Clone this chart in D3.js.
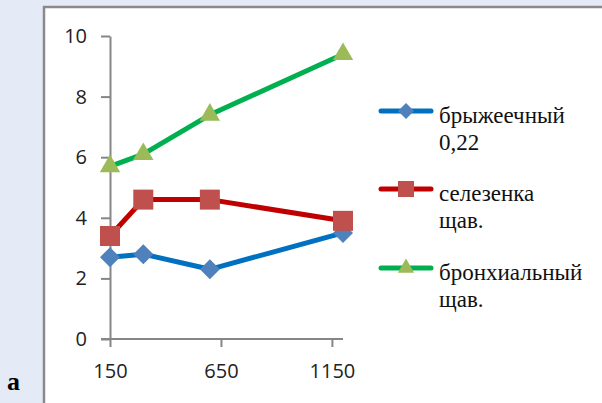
<!DOCTYPE html>
<html>
<head>
<meta charset="utf-8">
<script src="https://cdn.jsdelivr.net/npm/d3@7/dist/d3.min.js"></script>
<style>
  body { margin: 0; background: #e4ebf6; }
  svg { display: block; }
  text.serif { font-family: "Liberation Serif", "Times New Roman", "DejaVu Serif", serif; }
</style>
</head>
<body>
<div id="chart"></div>
<script>
// data
const xValues = [150, 300, 600, 1200];
const seriesNames = [["брыжеечный", "0,22"], ["селезенка", "щав."], ["бронхиальный", "щав."]];
const mesenteric = [2.7, 2.8, 2.3, 3.5];
const spleen = [3.4, 4.6, 4.6, 3.9];
const bronchial = [5.7, 6.1, 7.4, 9.4];
const xTicks = [150, 650, 1150];
const yTicks = [0, 2, 4, 6, 8, 10];

const width = 602, height = 403;

const svg = d3.select("#chart").append("svg")
    .attr("width", width)
    .attr("height", height);

// white panel with grey frame on left/top
svg.append("rect")
    .attr("x", 44).attr("y", 7)
    .attr("width", width).attr("height", height)
    .attr("fill", "#fff")
    .attr("stroke", "#8a8a8a")
    .attr("stroke-width", 2.5);

const x = d3.scaleLinear().domain([150, 1200]).range([110, 343]);
const y = d3.scaleLinear().domain([0, 10]).range([339, 36]);

const axisColor = "#868686";
const tickFont = "'Open Sans', sans-serif";

// y axis
const yAxis = svg.append("g")
    .attr("transform", `translate(${x(150)},0)`)
    .call(d3.axisLeft(y).tickValues(yTicks).tickSize(9).tickPadding(14).tickSizeOuter(0));
// x axis
const xAxis = svg.append("g")
    .attr("transform", `translate(0,${y(0)})`)
    .call(d3.axisBottom(x).tickValues(xTicks).tickFormat(d3.format("d"))
        .tickSize(8).tickPadding(17).tickSizeOuter(0));

[xAxis, yAxis].forEach(g => {
    g.select(".domain").attr("stroke", axisColor).attr("stroke-width", 2);
    g.selectAll(".tick line").attr("stroke", axisColor).attr("stroke-width", 2);
    g.selectAll(".tick text")
        .attr("fill", "#222")
        .style("font-family", tickFont)
        .style("font-size", "20px");
});
// x axis line starts at the left tick of the y axis
xAxis.select(".domain").attr("d", `M${x(150) - 9},0H${x(1200)}`);

const series = [
    { values: mesenteric, line: "#0070c0", fill: "#4f81bd", shape: "diamond" },
    { values: spleen, line: "#c00000", fill: "#c0504d", shape: "square" },
    { values: bronchial, line: "#00b050", fill: "#9bbb59", shape: "triangle" }
];

function markerPath(shape, s) {
    if (shape === "square") return d3.symbol(d3.symbolSquare, s * s)();
    if (shape === "diamond") return d3.symbol(d3.symbolSquare, s * s / 2)();
    return d3.symbol(d3.symbolTriangle, s * s * 0.45)();
}
function markerTransform(shape, px, py) {
    if (shape === "diamond") return `translate(${px},${py}) rotate(45)`;
    return `translate(${px},${py})`;
}

const line = d3.line().x((d, i) => x(xValues[i])).y(d => y(d));

series.forEach(s => {
    svg.append("path")
        .datum(s.values)
        .attr("d", line)
        .attr("fill", "none")
        .attr("stroke", s.line)
        .attr("stroke-width", 5)
        .attr("stroke-linejoin", "round");
});
series.forEach(s => {
    svg.selectAll(null)
        .data(s.values)
        .enter().append("path")
        .attr("d", markerPath(s.shape, 20))
        .attr("transform", (d, i) => markerTransform(s.shape, x(xValues[i]), y(d)))
        .attr("fill", s.fill);
});

// legend
const legendY = [111, 189, 268];
series.forEach((s, i) => {
    const g = svg.append("g").attr("transform", `translate(381,${legendY[i]})`);
    g.append("line")
        .attr("x1", 0).attr("x2", 50)
        .attr("stroke", s.line).attr("stroke-width", 5)
        .attr("stroke-linecap", "round");
    g.append("path")
        .attr("d", markerPath(s.shape, 16))
        .attr("transform", markerTransform(s.shape, 25, 0))
        .attr("fill", s.fill);
    g.selectAll("text")
        .data(seriesNames[i])
        .enter().append("text")
        .attr("class", "serif")
        .attr("x", 58)
        .attr("y", (d, j) => j * 27 + 12)
        .attr("font-size", 23)
        .attr("fill", "#111")
        .text(d => d);
});

// panel label
svg.append("text")
    .attr("class", "serif")
    .attr("x", 7).attr("y", 390)
    .attr("font-size", 26)
    .attr("font-weight", "bold")
    .text("а");
</script>
</body>
</html>
